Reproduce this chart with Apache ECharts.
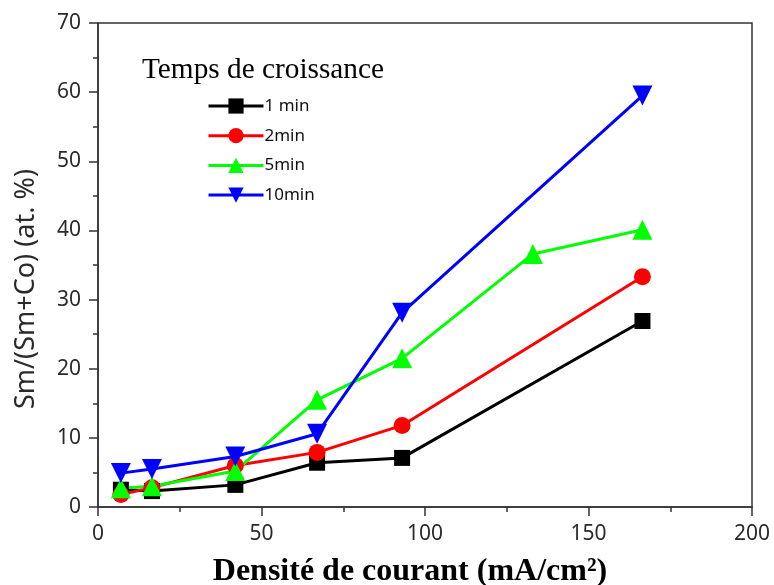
<!DOCTYPE html>
<html>
<head>
<meta charset="utf-8">
<script src="https://cdn.jsdelivr.net/npm/echarts@6/dist/echarts.min.js"></script>
<style>
  html, body { margin: 0; padding: 0; background: #fff; }
  #chart { width: 774px; height: 585px; }
</style>
</head>
<body>
<div id="chart"></div>
<script>
// Current density (mA/cm²) for each growth time
const xCommon = [7, 16.5, 42, 67, 93, 166.5];
const xFive = [7, 16.5, 42, 67, 93, 133, 166.5];

// Sm/(Sm+Co) atomic percentage
const sm1min = [2.5, 2.3, 3.2, 6.4, 7.1, 26.9];
const sm2min = [1.8, 2.8, 6.0, 7.9, 11.8, 33.3];
const sm5min = [2.7, 3.0, 5.2, 15.5, 21.5, 36.6, 40.1];
const sm10min = [4.9, 5.5, 7.3, 10.6, 28.1, 59.5];

const seriesNames = ['1 min', '2min', '5min', '10min'];
const xTicks = { min: 0, max: 200, interval: 50 };
const yTicks = { min: 0, max: 70, interval: 10 };

const pairs = (xs, ys) => xs.map((x, i) => [x, ys[i]]);

const axisColor = '#333';
const labelColor = '#2a2a2a';
const sansFont = 'Noto Sans';

function makeSeries(name, data, color, symbol, size, rotate) {
  return {
    name: name,
    type: 'line',
    data: data,
    symbol: symbol,
    symbolSize: size,
    symbolRotate: rotate || 0,
    showAllSymbol: true,
    lineStyle: { color: color, width: 3 },
    itemStyle: { color: color, borderWidth: 0 },
    emphasis: { disabled: true },
    animation: false
  };
}

const chart = echarts.init(document.getElementById('chart'), null, { renderer: 'canvas' });

chart.setOption({
  backgroundColor: '#fff',
  animation: false,
  title: {
    text: 'Temps de croissance',
    left: 142,
    top: 56,
    padding: 0,
    textStyle: {
      fontFamily: 'Liberation Serif',
      fontWeight: 'normal',
      fontSize: 29.3,
      color: '#000'
    }
  },
  legend: {
    data: seriesNames,
    orient: 'vertical',
    left: 207,
    top: 97.5,
    padding: 0,
    itemWidth: 55,
    itemHeight: 19,
    itemGap: 12.7,
    selectedMode: false,
    lineStyle: { width: 3 },
    textStyle: {
      fontFamily: sansFont,
      fontSize: 17,
      color: '#111',
      padding: [0, 0, 0, -4]
    }
  },
  grid: {
    left: 98,
    right: 22,
    top: 23,
    bottom: 78,
    show: true,
    borderColor: axisColor,
    borderWidth: 1.5,
    containLabel: false,
    outerBoundsMode: 'none'
  },
  xAxis: {
    type: 'value',
    min: xTicks.min,
    max: xTicks.max,
    interval: xTicks.interval,
    name: 'Densité de courant (mA/cm²)',
    nameLocation: 'middle',
    nameGap: 49,
    nameTextStyle: {
      fontFamily: 'Liberation Serif',
      fontWeight: 'bold',
      fontSize: 32,
      color: '#000',
      padding: [0, 30, 0, 0]
    },
    axisLine: { show: true, lineStyle: { color: axisColor, width: 1.5 } },
    axisTick: { show: true, inside: false, length: 9, lineStyle: { color: axisColor, width: 1.5 } },
    minorTick: { show: true, splitNumber: 2, length: 5, lineStyle: { color: axisColor, width: 1.5 } },
    splitLine: { show: false },
    axisLabel: {
      fontFamily: sansFont,
      fontSize: 21,
      color: labelColor,
      margin: 17
    }
  },
  yAxis: {
    type: 'value',
    min: yTicks.min,
    max: yTicks.max,
    interval: yTicks.interval,
    name: 'Sm/(Sm+Co) (at. %)',
    nameLocation: 'middle',
    nameGap: 58,
    nameRotate: 90,
    nameTextStyle: {
      fontFamily: sansFont,
      fontSize: 27,
      color: labelColor,
      padding: [0, 48, 0, 0]
    },
    axisLine: { show: true, lineStyle: { color: axisColor, width: 1.5 } },
    axisTick: { show: true, inside: false, length: 9, lineStyle: { color: axisColor, width: 1.5 } },
    minorTick: { show: true, splitNumber: 2, length: 5, lineStyle: { color: axisColor, width: 1.5 } },
    splitLine: { show: false },
    axisLabel: {
      fontFamily: sansFont,
      fontSize: 21,
      color: labelColor,
      margin: 17
    }
  },
  series: [
    makeSeries(seriesNames[0], pairs(xCommon, sm1min), '#000000', 'rect', 16),
    makeSeries(seriesNames[1], pairs(xCommon, sm2min), '#ff0000', 'circle', 17),
    makeSeries(seriesNames[2], pairs(xFive, sm5min), '#00ff00', 'triangle', 20),
    makeSeries(seriesNames[3], pairs(xCommon, sm10min), '#0000ff', 'triangle', 20, 180)
  ]
});
</script>
</body>
</html>
